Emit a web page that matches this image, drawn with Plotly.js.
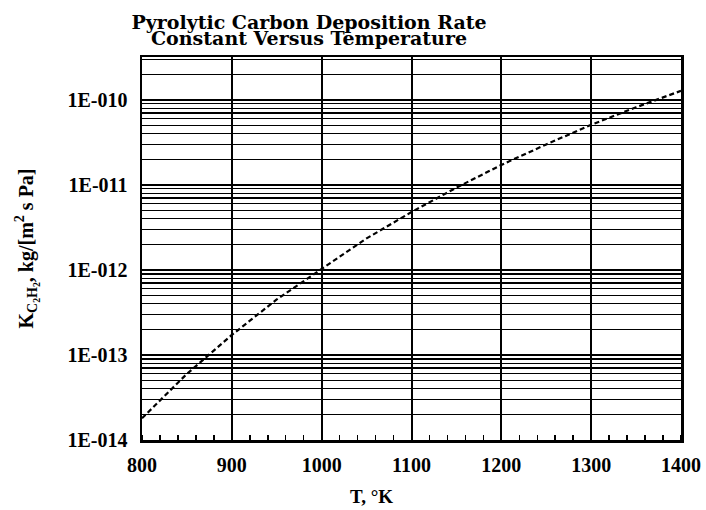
<!DOCTYPE html>
<html><head><meta charset="utf-8">
<script src="https://cdn.plot.ly/plotly-3.0.1.min.js"></script>
<style>body{margin:0;background:#fff}#chart{width:706px;height:510px}</style>
</head><body><div id="chart"></div>
<script>
// Data
const temperatureK = [800, 850, 900, 950, 1000, 1050, 1100, 1150, 1200, 1250, 1300, 1350, 1400];
const rateConstant = [1.8e-14, 6.0e-14, 1.72e-13, 4.5e-13, 1.03e-12, 2.35e-12, 4.8e-12, 9.3e-12, 1.72e-11, 3.0e-11, 5.1e-11, 8.2e-11, 1.28e-10];
const xTickVals = [800, 900, 1000, 1100, 1200, 1300, 1400];
const xTickText = ['800', '900', '1000', '1100', '1200', '1300', '1400'];
const yTickVals = [1e-14, 1e-13, 1e-12, 1e-11, 1e-10];
const yTickText = ['1E-014', '1E-013', '1E-012', '1E-011', '1E-010'];
const titleLines = ['Pyrolytic Carbon Deposition Rate', 'Constant Versus Temperature'];

const serifBold = 'Liberation Serif';
const trace = {
  x: temperatureK, y: rateConstant, type: 'scatter', mode: 'lines',
  line: {color: '#000', width: 2.2, dash: '5px,3px'}, showlegend: false, hoverinfo: 'skip'
};
const titleText = titleLines.map(t => '<span style="font-size:19px"><b>' + t + '</b></span>').join('<br>');
const layout = {
  width: 706, height: 510,
  margin: {l: 142, r: 25, t: 57, b: 70},
  paper_bgcolor: '#fff', plot_bgcolor: '#fff',
  title: {
    text: titleText,
    font: {family: 'DejaVu Serif', size: 12.6, color: '#000'},
    xref: 'container', x: 0.4377, xanchor: 'center',
    yref: 'container', y: 0.944, yanchor: 'top'
  },
  xaxis: {
    range: [800, 1400], tickmode: 'array', tickvals: xTickVals, ticktext: xTickText,
    showgrid: true, gridcolor: '#000', gridwidth: 2,
    ticks: '', ticklabelstandoff: 5,
    tickfont: {family: serifBold, size: 20, color: '#000', weight: 'bold'},
    showline: true, linecolor: '#000', linewidth: 2.5, mirror: true, zeroline: false,
    minor: {dtick: 20, ticks: 'inside', ticklen: 5, tickwidth: 1.5, tickcolor: '#000', showgrid: false}
  },
  yaxis: {
    type: 'log', range: [-14, -9.495], tickmode: 'array', tickvals: yTickVals, ticktext: yTickText,
    showgrid: true, gridcolor: '#000', gridwidth: 2,
    ticks: '', ticklabelstandoff: 8,
    tickfont: {family: serifBold, size: 20, color: '#000', weight: 'bold'},
    showline: true, linecolor: '#000', linewidth: 2.5, mirror: true, zeroline: false,
    minor: {dtick: 'D1', showgrid: true, gridcolor: '#000', gridwidth: 1.3, ticks: ''},
    title: {
      text: '<b>K<sub>C<sub>2</sub>H<sub>2</sub></sub>, kg/[m<sup>2</sup> s Pa]</b>',
      font: {family: serifBold, size: 20, color: '#000'}, standoff: 29
    }
  },
  annotations: [{
    text: '<b>T, °K</b>', xref: 'paper', yref: 'paper', x: (371 - 142) / 539, y: -56 / 383,
    xanchor: 'center', yanchor: 'middle', showarrow: false,
    font: {family: serifBold, size: 19, color: '#000'}
  }]
};
Plotly.newPlot('chart', [trace], layout, {displayModeBar: false, staticPlot: true});
</script></body></html>
